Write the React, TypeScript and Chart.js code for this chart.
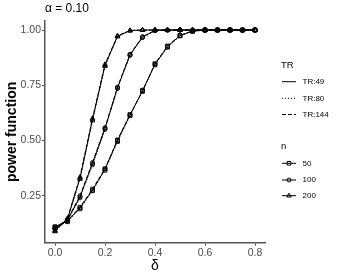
import React, { useEffect, useRef } from "react";
import { Chart, registerables } from "chart.js";

Chart.register(...registerables);

const delta = [0, 0.05, 0.1, 0.15, 0.2, 0.25, 0.3, 0.35, 0.4, 0.45, 0.5, 0.55, 0.6, 0.65, 0.7, 0.75, 0.8];

const n50_TR49 = [0.11, 0.135, 0.195, 0.275, 0.37, 0.5, 0.615, 0.725, 0.845, 0.925, 0.975, 0.995, 1, 1, 1, 1, 1];
const n50_TR80 = [0.105, 0.132, 0.19, 0.272, 0.365, 0.495, 0.612, 0.728, 0.842, 0.922, 0.973, 0.994, 1, 1, 1, 1, 1];
const n50_TR144 = [0.108, 0.138, 0.198, 0.28, 0.372, 0.503, 0.618, 0.722, 0.848, 0.928, 0.976, 0.996, 1, 1, 1, 1, 1];

const n100_TR49 = [0.1, 0.14, 0.245, 0.395, 0.555, 0.738, 0.888, 0.968, 0.998, 1, 1, 1, 1, 1, 1, 1, 1];
const n100_TR80 = [0.098, 0.138, 0.24, 0.39, 0.55, 0.735, 0.885, 0.966, 0.997, 1, 1, 1, 1, 1, 1, 1, 1];
const n100_TR144 = [0.102, 0.143, 0.25, 0.4, 0.558, 0.742, 0.89, 0.97, 0.998, 1, 1, 1, 1, 1, 1, 1, 1];

const n200_TR49 = [0.09, 0.145, 0.33, 0.595, 0.84, 0.972, 0.998, 1, 1, 1, 1, 1, 1, 1, 1, 1, 1];
const n200_TR80 = [0.088, 0.142, 0.325, 0.59, 0.836, 0.97, 0.997, 1, 1, 1, 1, 1, 1, 1, 1, 1, 1];
const n200_TR144 = [0.092, 0.148, 0.335, 0.6, 0.845, 0.974, 0.998, 1, 1, 1, 1, 1, 1, 1, 1, 1, 1];

const xTicks = [0, 0.2, 0.4, 0.6, 0.8];
const yTicks = [0.25, 0.5, 0.75, 1.0];
const trLabels = ["TR:49", "TR:80", "TR:144"];
const nLabels = ["50", "100", "200"];

const FONT = "'Liberation Sans', Arial, Helvetica, sans-serif";
const dashes: number[][] = [[], [1, 2], [4, 2]];
const shapes: any[] = ["rect", "circle", "triangle"];
const radii = [2.6, 2, 2.6];

function drawMarker(ctx: CanvasRenderingContext2D, shape: string, x: number, y: number, r: number) {
  ctx.beginPath();
  if (shape === "rect") {
    const s = Math.SQRT1_2 * r;
    ctx.rect(x - s, y - s, 2 * s, 2 * s);
  } else if (shape === "circle") {
    ctx.arc(x, y, r, 0, Math.PI * 2);
  } else {
    ctx.moveTo(x, y - r);
    ctx.lineTo(x + r * 0.866, y + r * 0.5);
    ctx.lineTo(x - r * 0.866, y + r * 0.5);
    ctx.closePath();
  }
  ctx.stroke();
}

const overlayPlugin = {
  id: "overlay",
  afterDraw(chart: any) {
    const ctx: CanvasRenderingContext2D = chart.ctx;
    const area = chart.chartArea;
    ctx.save();
    ctx.fillStyle = "#000";
    ctx.font = `12px ${FONT}`;
    ctx.textBaseline = "middle";
    ctx.textAlign = "left";
    ctx.fillText("α = 0.10", area.left, 9);

    // TR legend
    ctx.font = `9.5px ${FONT}`;
    ctx.fillText("TR", 281, 65);
    ctx.font = `8px ${FONT}`;
    const trY = [81.7, 98.3, 114.5];
    trLabels.forEach((lab, i) => {
      ctx.strokeStyle = "#000";
      ctx.lineWidth = 1;
      ctx.setLineDash(dashes[i]);
      ctx.beginPath();
      ctx.moveTo(282, trY[i]);
      ctx.lineTo(296, trY[i]);
      ctx.stroke();
      ctx.setLineDash([]);
      ctx.fillStyle = "#000";
      ctx.fillText(lab, 302.5, trY[i]);
    });

    // n legend
    ctx.font = `9.5px ${FONT}`;
    ctx.fillText("n", 281, 146);
    ctx.font = `8px ${FONT}`;
    const nY = [163.3, 180, 195.7];
    nLabels.forEach((lab, i) => {
      ctx.strokeStyle = "#000";
      ctx.lineWidth = 1;
      ctx.beginPath();
      ctx.moveTo(282, nY[i]);
      ctx.lineTo(296, nY[i]);
      ctx.stroke();
      drawMarker(ctx, shapes[i], 289, nY[i], radii[i]);
      ctx.fillStyle = "#000";
      ctx.fillText(lab, 302.5, nY[i]);
    });
    ctx.restore();
  },
};

export default function App() {
  const ref = useRef<HTMLCanvasElement | null>(null);
  useEffect(() => {
    if (!ref.current) return;
    const series = [
      [n50_TR49, n50_TR80, n50_TR144],
      [n100_TR49, n100_TR80, n100_TR144],
      [n200_TR49, n200_TR80, n200_TR144],
    ];
    const datasets: any[] = [];
    series.forEach((group, ni) => {
      group.forEach((vals, ti) => {
        datasets.push({
          label: `n${nLabels[ni]} ${trLabels[ti]}`,
          data: vals.map((v, k) => ({ x: delta[k], y: v })),
          borderColor: "#000",
          backgroundColor: "rgba(0,0,0,0)",
          borderWidth: 1,
          borderDash: dashes[ti],
          pointStyle: shapes[ni],
          pointRadius: radii[ni],
          pointBorderColor: "#000",
          pointBorderWidth: 0.9,
          pointBackgroundColor: "rgba(0,0,0,0)",
          tension: 0,
        });
      });
    });
    const chart = new Chart(ref.current, {
      type: "line",
      data: { datasets },
      options: {
        animation: false,
        responsive: false,
        devicePixelRatio: 1,
        layout: { padding: { top: 21, right: 74, left: 0, bottom: 0 } },
        plugins: { legend: { display: false }, tooltip: { enabled: false }, title: { display: false } },
        scales: {
          x: {
            type: "linear",
            min: -0.04,
            max: 0.84,
            afterFit: (s: any) => {
              s.height = 34.3;
            },
            afterBuildTicks: (s: any) => {
              s.ticks = xTicks.map((v) => ({ value: v }));
            },
            ticks: {
              callback: (v: any) => Number(v).toFixed(1),
              color: "#4d4d4d",
              font: { family: FONT, size: 10.5 },
              padding: 1,
              maxRotation: 0,
            },
            grid: { drawOnChartArea: false, drawTicks: true, tickLength: 3, color: "#555", lineWidth: 1 },
            border: { display: true, color: "#555", width: 1.5 },
            title: {
              display: true,
              text: "δ",
              color: "#000",
              font: { family: FONT, size: 14 },
              padding: { top: 0, bottom: 2 },
            },
          },
          y: {
            type: "linear",
            min: 0.0372,
            max: 1.041,
            afterFit: (s: any) => {
              s.width = 45;
            },
            afterBuildTicks: (s: any) => {
              s.ticks = yTicks.map((v) => ({ value: v }));
            },
            ticks: {
              callback: (v: any) => Number(v).toFixed(2),
              color: "#4d4d4d",
              font: { family: FONT, size: 10.5 },
              padding: 1,
            },
            grid: { drawOnChartArea: false, drawTicks: true, tickLength: 3, color: "#555", lineWidth: 1 },
            border: { display: true, color: "#555", width: 1.5 },
            title: {
              display: true,
              text: "power function",
              color: "#000",
              font: { family: FONT, size: 14, weight: "bold" },
              padding: { top: 4, bottom: 0 },
            },
          },
        },
      },
      plugins: [overlayPlugin],
    });
    return () => chart.destroy();
  }, []);
  return (
    <div style={{ position: "absolute", left: 0, top: 0, width: 339, height: 277, background: "#fff" }}>
      <canvas ref={ref} width={339} height={277} style={{ display: "block" }} />
    </div>
  );
}
